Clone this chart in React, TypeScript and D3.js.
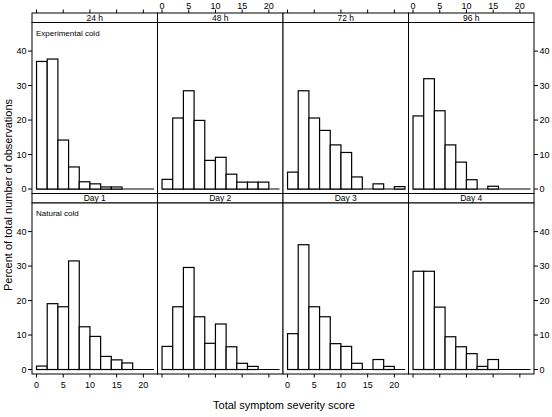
import React from "react";
import * as d3 from "d3";

const topLabels = ["24 h", "48 h", "72 h", "96 h"];
const bottomLabels = ["Day 1", "Day 2", "Day 3", "Day 4"];
const rowNotes = ["Experimental cold", "Natural cold"];

// Percent of observations per 2-point bin (0-2, 2-4, ...)
const exp24 = [37.0, 37.7, 14.2, 6.4, 2.1, 1.5, 0.6, 0.6];
const exp48 = [2.8, 20.6, 28.5, 19.9, 8.3, 9.2, 4.3, 2.0, 2.0, 2.0];
const exp72 = [4.9, 28.5, 20.6, 17.0, 12.8, 10.6, 3.5, 0, 1.5, 0, 0.7];
const exp96 = [21.2, 32.0, 22.7, 12.8, 7.8, 2.7, 0, 0.8];
const nat1 = [1.0, 19.1, 18.2, 31.5, 12.4, 9.6, 3.8, 2.8, 1.9];
const nat2 = [6.7, 18.2, 29.6, 15.3, 7.6, 13.2, 6.6, 1.8, 0.9];
const nat3 = [10.4, 36.2, 18.2, 15.3, 7.5, 6.7, 1.8, 0, 2.9, 0.9];
const nat4 = [28.5, 28.5, 18.1, 9.5, 6.6, 4.6, 0.9, 2.9];

const binWidth = 2;
const xTicks = [0, 5, 10, 15, 20];
const yTicks = [0, 10, 20, 30, 40];

const rows = [
  [exp24, exp48, exp72, exp96],
  [nat1, nat2, nat3, nat4],
];

const W = 552;
const H = 417;
const left = 32;
const panelW = 125.5;
const stripH = 9.5;
const panelH = 171;
const rowTop = [13, 193.5];
const font = "Liberation Sans, Arial, Helvetica, sans-serif";

export default function App() {
  const x = d3.scaleLinear().domain([-0.85, 22.65]).range([0, panelW]);
  const y = d3.scaleLinear().domain([-1.3, 48.3]).range([panelH, 0]);

  const elems: React.ReactNode[] = [];

  rows.forEach((row, ri) => {
    const sTop = rowTop[ri];
    const pTop = sTop + stripH;
    row.forEach((vals, ci) => {
      const px = left + ci * panelW;
      const key = `${ri}-${ci}`;
      // strip
      elems.push(
        <g key={"s" + key}>
          <rect x={px} y={sTop} width={panelW} height={stripH} fill="white" stroke="black" strokeWidth={1} />
          <text x={px + panelW / 2} y={sTop + stripH - 1.8} textAnchor="middle" fontSize={8.5} fontFamily={font}>
            {ri === 0 ? topLabels[ci] : bottomLabels[ci]}
          </text>
        </g>
      );
      // panel
      const bars = vals.map((v, i) => {
        if (v <= 0) return null;
        const x0 = x(i * binWidth);
        const x1 = x((i + 1) * binWidth);
        return (
          <rect key={i} x={px + x0} y={pTop + y(v)} width={x1 - x0} height={y(0) - y(v)} fill="white" stroke="black" strokeWidth={1.2} />
        );
      });
      elems.push(
        <g key={"p" + key}>
          <rect x={px} y={pTop} width={panelW} height={panelH} fill="white" stroke="black" strokeWidth={1} />
          <line x1={px + x(0)} x2={px + x(22)} y1={pTop + y(0)} y2={pTop + y(0)} stroke="black" strokeWidth={1.2} />
          {bars}
        </g>
      );
      // x ticks
      if (ri === 0) {
        xTicks.forEach((t) => {
          elems.push(<line key={`xt${key}-${t}`} x1={px + x(t)} x2={px + x(t)} y1={sTop} y2={sTop - 3.5} stroke="black" />);
          if (ci % 2 === 1)
            elems.push(
              <text key={`xl${key}-${t}`} x={px + x(t)} y={sTop - 4.5} textAnchor="middle" fontSize={9} fontFamily={font}>
                {t}
              </text>
            );
        });
      } else {
        const b = pTop + panelH;
        xTicks.forEach((t) => {
          elems.push(<line key={`xt${key}-${t}`} x1={px + x(t)} x2={px + x(t)} y1={b} y2={b + 3.5} stroke="black" />);
          if (ci % 2 === 0)
            elems.push(
              <text key={`xl${key}-${t}`} x={px + x(t)} y={b + 14} textAnchor="middle" fontSize={9} fontFamily={font}>
                {t}
              </text>
            );
        });
      }
    });
    // y axes
    yTicks.forEach((t) => {
      const yy = pTop + y(t);
      const rx = left + 4 * panelW;
      elems.push(
        <g key={`yt${ri}-${t}`}>
          <line x1={left} x2={left - 4} y1={yy} y2={yy} stroke="black" />
          <text x={left - 5.5} y={yy + 3.2} textAnchor="end" fontSize={9} fontFamily={font}>{t}</text>
          <line x1={rx} x2={rx + 4} y1={yy} y2={yy} stroke="black" />
          <text x={rx + 5.5} y={yy + 3.2} textAnchor="start" fontSize={9} fontFamily={font}>{t}</text>
        </g>
      );
    });
    elems.push(
      <text key={`note${ri}`} x={left + 4} y={pTop + 13} fontSize={8} fontFamily={font}>
        {rowNotes[ri]}
      </text>
    );
  });

  return (
    <svg width={W} height={H} style={{ position: "absolute", left: 0, top: 0, background: "white" }}>
      {elems}
      <text x={284} y={409} textAnchor="middle" fontSize={11} fontFamily={font}>
        Total symptom severity score
      </text>
      <text transform="translate(12,195) rotate(-90)" textAnchor="middle" fontSize={11} fontFamily={font}>
        Percent of total number of observations
      </text>
    </svg>
  );
}
